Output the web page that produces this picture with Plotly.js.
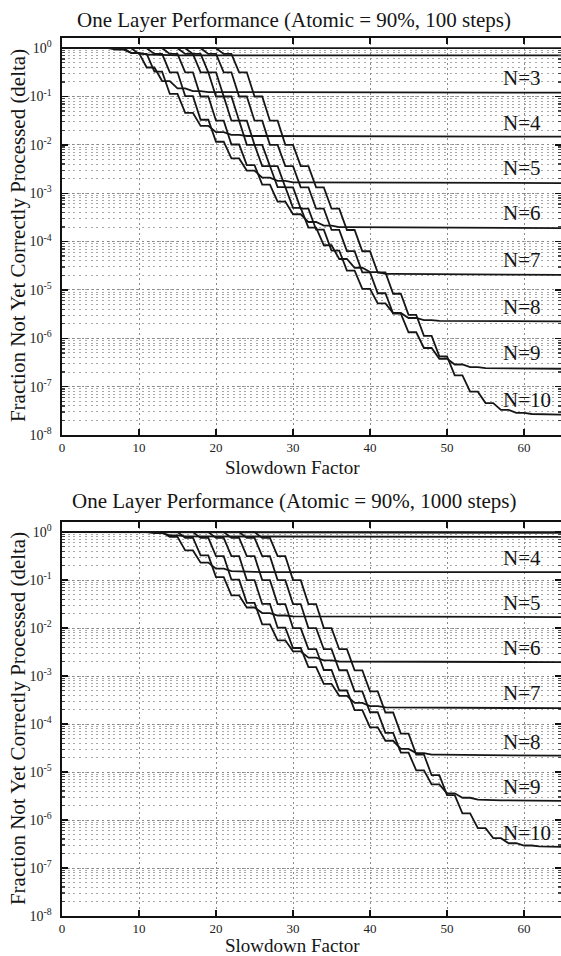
<!DOCTYPE html>
<html>
<head>
<meta charset="utf-8">
<script src="https://cdn.plot.ly/plotly-3.0.1.min.js"></script>
<style>html,body{margin:0;padding:0;background:#fff;overflow:hidden}#chart{width:561px;height:956px}</style>
</head>
<body>
<div id="chart"></div>
<script>
// ---- data (delta values stored as log10(delta)) ----
const NS = [1, 2, 3, 4, 5, 6, 7, 8, 9, 10];
const xTickVals = [0, 10, 20, 30, 40, 50, 60];
const yTickPowers = [-8, -7, -6, -5, -4, -3, -2, -1, 0];

// 100 steps: slowdown where each curve starts to fall, final plateau, stair levels (one per 2 units)
const start100 = [0, 5, 7, 8, 10, 12, 14, 15, 17, 19];
const plateau100 = [0, -0.15, -0.92, -1.83, -2.79, -3.72, -4.69, -5.65, -6.63, -7.58];
const stairs100 = [
  [],
  [0, -0.032, -0.096, -0.131, -0.143, -0.147],
  [0, -0.103, -0.40, -0.68, -0.83, -0.890, -0.909, -0.917],
  [0, -0.118, -0.487, -0.947, -1.339, -1.608, -1.736, -1.793, -1.816, -1.825],
  [0, -0.12, -0.50, -0.99, -1.48, -1.935, -2.28, -2.531, -2.679, -2.746, -2.774],
  [0, -0.12, -0.5, -1.0, -1.5, -1.992, -2.418, -2.821, -3.174, -3.435, -3.595, -3.671, -3.702],
  [0, -0.12, -0.5, -1.0, -1.5, -2.0, -2.438, -2.873, -3.302, -3.711, -4.076, -4.36, -4.541, -4.63, -4.667],
  [0, -0.12, -0.5, -1.0, -1.5, -2.0, -2.44, -2.88, -3.318, -3.754, -4.185, -4.599, -4.977, -5.279, -5.477, -5.58, -5.622, -5.64],
  [0, -0.12, -0.5, -1.0, -1.5, -2.0, -2.44, -2.88, -3.32, -3.759, -4.198, -4.636, -5.068, -5.488, -5.875, -6.2, -6.423, -6.542, -6.596, -6.617],
  [0, -0.12, -0.5, -1.0, -1.5, -2.0, -2.44, -2.88, -3.32, -3.76, -4.2, -4.639, -5.078, -5.516, -5.95, -6.372, -6.766, -7.104, -7.34, -7.479, -7.54, -7.565]
];
const labelN100 = ["N=3", "N=4", "N=5", "N=6", "N=7", "N=8", "N=9", "N=10"];
const labelLog100 = [-0.615, -1.55, -2.48, -3.41, -4.38, -5.36, -6.31, -7.28];

// 1000 steps
const start1000 = [0, 8, 10, 12, 14, 16, 18, 20, 22, 24];
const plateau1000 = [0, -0.015, -0.10, -0.835, -1.77, -2.71, -3.67, -4.66, -5.6, -6.56];
const stairs1000 = [
  [],
  [0, -0.003, -0.010, -0.0135],
  [0, -0.022, -0.066, -0.089, -0.0966, -0.099],
  [0, -0.100, -0.381, -0.636, -0.762, -0.811, -0.8265, -0.832],
  [0, -0.117, -0.485, -0.938, -1.318, -1.571, -1.687, -1.738, -1.758, -1.765],
  [0, -0.12, -0.5, -0.992, -1.474, -1.922, -2.254, -2.484, -2.615, -2.672, -2.696],
  [0, -0.12, -0.5, -1.0, -1.497, -1.991, -2.415, -2.815, -3.161, -3.411, -3.559, -3.626, -3.654],
  [0, -0.12, -0.5, -1.0, -1.5, -2.0, -2.437, -2.873, -3.301, -3.709, -4.07, -4.348, -4.519, -4.604, -4.639],
  [0, -0.12, -0.5, -1.0, -1.5, -2.0, -2.44, -2.879, -3.318, -3.754, -4.183, -4.594, -4.966, -5.257, -5.443, -5.536, -5.576, -5.591],
  [0, -0.12, -0.5, -1.0, -1.5, -2.0, -2.44, -2.88, -3.32, -3.759, -4.198, -4.635, -5.066, -5.481, -5.863, -6.17, -6.378, -6.484, -6.531, -6.549]
];
const labelN1000 = ["N=4", "N=5", "N=6", "N=7", "N=8", "N=9", "N=10"];
const labelLog1000 = [-0.543, -1.48, -2.42, -3.36, -4.38, -5.32, -6.26];

const xEnd = 65;

// ---- build ----
function buildTraces(starts, plateaus, stairs, xa, ya) {
  return NS.map(function (n, i) {
    const xs = [0], ys = [0];
    stairs[i].forEach(function (L, k) {
      xs.push(starts[i] + 2 * k, starts[i] + 2 * k + 1);
      ys.push(L, L);
    });
    xs.push(xEnd); ys.push(plateaus[i]);
    return {
      type: 'scatter', mode: 'lines', x: xs, y: ys.map(function (v) { return Math.pow(10, v); }),
      xaxis: xa, yaxis: ya, name: 'N=' + n, showlegend: false, hoverinfo: 'skip',
      line: { color: '#161616', width: 1.8 }
    };
  });
}

const traces = buildTraces(start100, plateau100, stairs100, 'x', 'y')
  .concat(buildTraces(start1000, plateau1000, stairs1000, 'x2', 'y2'));

const serif = 'Liberation Serif';
const tickText = yTickPowers.map(function (p) { return '10<sup>' + p + '</sup>'; });
const tickVals = yTickPowers.map(function (p) { return Math.pow(10, p); });

function xAxis(anchor) {
  return {
    anchor: anchor, domain: [0, 1], range: [0, 64.8], tickvals: xTickVals,
    ticks: 'inside', ticklen: 6, tickwidth: 1.3, tickcolor: '#111',
    showline: true, linecolor: '#111', linewidth: 1.6, mirror: 'ticks',
    showgrid: true, gridcolor: '#8a8a8a', gridwidth: 1, griddash: '2px,3px',
    zeroline: false, ticklabelstandoff: 0,
    tickfont: { family: serif, size: 13, color: '#222' }
  };
}
function yAxis(anchor, domain) {
  return {
    anchor: anchor, domain: domain, type: 'log', range: [-8, 0.21],
    tickvals: tickVals, ticktext: tickText,
    ticks: 'inside', ticklen: 6, tickwidth: 1.3, tickcolor: '#111',
    showline: true, linecolor: '#111', linewidth: 1.6, mirror: 'ticks',
    showgrid: true, gridcolor: '#8a8a8a', gridwidth: 1, griddash: '2px,3px',
    minor: { dtick: 'D1', showgrid: true, gridcolor: '#a8a8a8', gridwidth: 1, griddash: '2px,3.7px',
             ticks: 'inside', ticklen: 3, tickcolor: '#444' },
    zeroline: false, ticklabelstandoff: 6,
    tickfont: { family: serif, size: 14, color: '#222' }
  };
}

const annotations = [];
function textAnn(text, x, y, size, extra) {
  const a = Object.assign({ text: text, x: x, y: y, xref: 'paper', yref: 'paper', showarrow: false,
    font: { family: serif, size: size, color: '#151515' }, xanchor: 'center', yanchor: 'middle', borderpad: 0 }, extra || {});
  annotations.push(a);
}
textAnn('One Layer Performance (Atomic = 90%, 100 steps)', 0.465, 1.0205, 21);
textAnn('One Layer Performance (Atomic = 90%, 1000 steps)', 0.465, 0.4727, 21);
textAnn('Slowdown Factor', 0.461, 0.5103, 19);
textAnn('Slowdown Factor', 0.461, -0.0467, 19, { yanchor: 'bottom' });
textAnn('Fraction Not Yet Correctly Processed (delta)', -0.088, 0.7745, 21, { textangle: -90 });
textAnn('Fraction Not Yet Correctly Processed (delta)', -0.088, 0.2244, 21, { textangle: -90 });

labelN100.forEach(function (t, i) {
  annotations.push({ text: t, x: 57.0, y: labelLog100[i], xref: 'x', yref: 'y', showarrow: false,
    xanchor: 'left', yanchor: 'middle', font: { family: serif, size: 21, color: '#151515' } });
});
labelN1000.forEach(function (t, i) {
  annotations.push({ text: t, x: 57.0, y: labelLog1000[i], xref: 'x2', yref: 'y2', showarrow: false,
    xanchor: 'left', yanchor: 'middle', font: { family: serif, size: 21, color: '#151515' } });
});

const layout = {
  width: 561, height: 956,
  margin: { l: 62, r: 0, t: 38, b: 40 },
  paper_bgcolor: '#ffffff', plot_bgcolor: '#ffffff',
  font: { family: serif, color: '#222' },
  showlegend: false,
  xaxis: xAxis('y'),
  yaxis: yAxis('x', [0.5478, 1]),
  xaxis2: xAxis('y2'),
  yaxis2: yAxis('x2', [0, 0.4487]),
  annotations: annotations
};

Plotly.newPlot('chart', traces, layout, { staticPlot: true, displayModeBar: false });
</script>
</body>
</html>
